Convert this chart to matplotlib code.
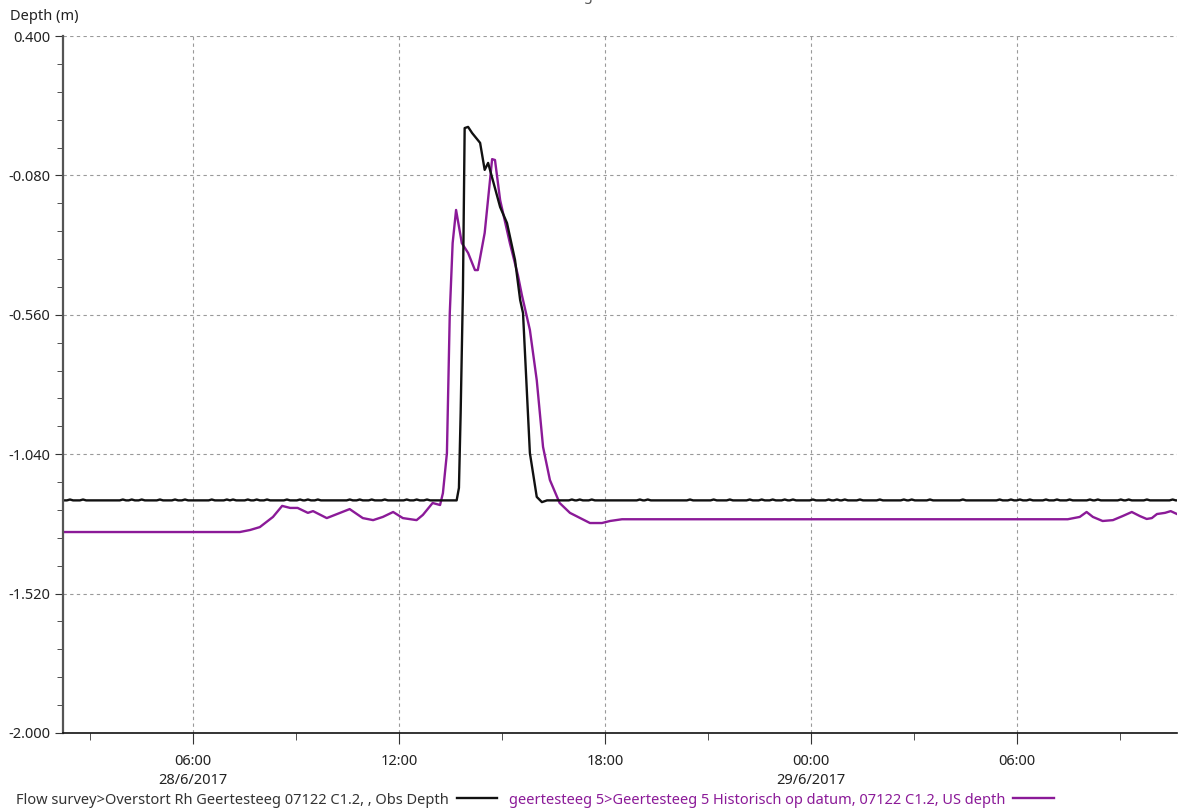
import numpy as np
import pandas as pd
import matplotlib
matplotlib.use("Agg")
from matplotlib import pyplot as plt
import matplotlib.dates as mdates

plt.rcParams['font.family'] = ['Noto Sans', 'DejaVu Sans']

# --- data (time, depth in m) ---
obs_times = ['2017-06-28 02:13', '2017-06-28 13:41', '2017-06-28 13:45', '2017-06-28 13:48',
             '2017-06-28 13:52', '2017-06-28 13:55', '2017-06-28 14:01', '2017-06-28 14:08',
             '2017-06-28 14:22', '2017-06-28 14:30', '2017-06-28 14:36', '2017-06-28 14:57',
             '2017-06-28 15:09', '2017-06-28 15:23', '2017-06-28 15:32', '2017-06-28 15:37',
             '2017-06-28 15:49', '2017-06-28 16:01', '2017-06-28 16:10', '2017-06-28 16:19',
             '2017-06-29 10:40']
obs_depth = [-1.199, -1.199, -1.156, -0.898,
             -0.475, 0.083, 0.087, 0.066,
             0.032, -0.061, -0.037, -0.189,
             -0.244, -0.371, -0.509, -0.554,
             -1.036, -1.187, -1.205, -1.199,
             -1.199]
# small wiggles on the flat part of the observed depth (hours after 28/6 00:00)
obs_bumps = [2.42, 2.80, 3.96, 4.22, 4.51, 5.04, 5.48, 5.77, 6.55, 6.99, 7.17, 7.60,
             7.86, 8.16, 8.74, 9.12, 9.35, 9.64, 10.57, 10.86, 11.21, 11.59, 12.23,
             12.52, 12.82, 17.04, 17.27, 17.62, 19.02, 19.25, 20.48, 21.17, 21.64,
             22.22, 22.57, 22.89, 23.24, 23.48, 24.06, 24.52, 24.76, 24.99, 25.43,
             26.01, 26.71, 26.94, 27.47, 28.43, 29.50, 29.83, 30.09, 30.38, 30.85,
             31.17, 31.54, 32.13, 32.36, 33.03, 33.26, 33.79, 34.54]

us_times = ['2017-06-28 02:13', '2017-06-28 07:22', '2017-06-28 07:40', '2017-06-28 07:57',
            '2017-06-28 08:20', '2017-06-28 08:36', '2017-06-28 08:50', '2017-06-28 09:03',
            '2017-06-28 09:21', '2017-06-28 09:30', '2017-06-28 09:54', '2017-06-28 10:34',
            '2017-06-28 10:57', '2017-06-28 11:15', '2017-06-28 11:32', '2017-06-28 11:50',
            '2017-06-28 12:07', '2017-06-28 12:31', '2017-06-28 12:42', '2017-06-28 12:59',
            '2017-06-28 13:12', '2017-06-28 13:17', '2017-06-28 13:24', '2017-06-28 13:29',
            '2017-06-28 13:34', '2017-06-28 13:40', '2017-06-28 13:50', '2017-06-28 14:01',
            '2017-06-28 14:13', '2017-06-28 14:18', '2017-06-28 14:30', '2017-06-28 14:43',
            '2017-06-28 14:48', '2017-06-28 14:57', '2017-06-28 15:14', '2017-06-28 15:28',
            '2017-06-28 15:35', '2017-06-28 15:49', '2017-06-28 16:01', '2017-06-28 16:12',
            '2017-06-28 16:24', '2017-06-28 16:41', '2017-06-28 16:59', '2017-06-28 17:34',
            '2017-06-28 17:55', '2017-06-28 18:09', '2017-06-28 18:30', '2017-06-29 07:29',
            '2017-06-29 07:50', '2017-06-29 08:02', '2017-06-29 08:13', '2017-06-29 08:30',
            '2017-06-29 08:48', '2017-06-29 09:05', '2017-06-29 09:21', '2017-06-29 09:35',
            '2017-06-29 09:47', '2017-06-29 09:56', '2017-06-29 10:05', '2017-06-29 10:19',
            '2017-06-29 10:29', '2017-06-29 10:40']
us_depth = [-1.308, -1.308, -1.301, -1.291,
            -1.256, -1.218, -1.225, -1.225,
            -1.242, -1.236, -1.260, -1.229,
            -1.260, -1.267, -1.256, -1.239,
            -1.260, -1.267, -1.249, -1.208,
            -1.215, -1.174, -1.036, -0.554,
            -0.313, -0.199, -0.313, -0.347,
            -0.406, -0.406, -0.278, -0.024,
            -0.027, -0.165, -0.313, -0.423,
            -0.492, -0.612, -0.785, -1.015,
            -1.129, -1.208, -1.242, -1.277,
            -1.277, -1.270, -1.264, -1.264,
            -1.256, -1.239, -1.256, -1.270,
            -1.267, -1.253, -1.239, -1.253,
            -1.263, -1.260, -1.246, -1.242,
            -1.236, -1.246]

obs_label = 'Flow survey>Overstort Rh Geertesteeg 07122 C1.2, , Obs Depth'
us_label = 'geertesteeg 5>Geertesteeg 5 Historisch op datum, 07122 C1.2, US depth'

y_ticks = [0.400, -0.080, -0.560, -1.040, -1.520, -2.000]
x_ticks = ['2017-06-28 06:00', '2017-06-28 12:00', '2017-06-28 18:00',
           '2017-06-29 00:00', '2017-06-29 06:00']
x_ticklabels = ['06:00\n28/6/2017', '12:00', '18:00', '00:00\n29/6/2017', '06:00']

# --- build series ---
day0 = pd.Timestamp('2017-06-28 00:00')
obs = pd.Series(obs_depth, index=pd.to_datetime(obs_times))
extra = {}
for h in obs_bumps:
    extra[day0 + pd.Timedelta(hours=h - 0.09)] = -1.199
    extra[day0 + pd.Timedelta(hours=h)] = -1.196
    extra[day0 + pd.Timedelta(hours=h + 0.09)] = -1.199
obs = pd.concat([obs, pd.Series(extra)]).sort_index()
us = pd.Series(us_depth, index=pd.to_datetime(us_times))

purple = '#8b1a98'
txt = '#222222'
fs = 10.5

fig = plt.figure(figsize=(11.87, 8.09), dpi=100)
ax = fig.add_axes([63 / 1187, 76 / 809, (1177 - 63) / 1187, (733 - 36) / 809])

ax.plot(us.index, us.values, color=purple, lw=1.7, label=us_label)
ax.plot(obs.index, obs.values, color='#111111', lw=1.7, label=obs_label)

ax.set_xlim(pd.Timestamp('2017-06-28 02:13'), pd.Timestamp('2017-06-29 10:40'))
ax.set_ylim(-2.0, 0.4)

ax.set_yticks(y_ticks)
ax.set_yticklabels(['%.3f' % v for v in y_ticks])
ax.set_yticks(np.arange(-2.0, 0.4, 0.096), minor=True)
ax.set_xticks(pd.to_datetime(x_ticks))
ax.set_xticklabels(x_ticklabels, linespacing=1.35)
ax.xaxis.set_minor_locator(mdates.HourLocator(byhour=[3, 9, 15, 21]))

ax.tick_params(axis='both', which='both', labelsize=fs, colors='#333333', labelcolor=txt)
ax.tick_params(axis='y', which='major', length=6, pad=3)
ax.tick_params(axis='y', which='minor', length=4)
ax.tick_params(axis='x', which='major', length=8, pad=7)
ax.tick_params(axis='x', which='minor', length=5)

for s in ['top', 'right']:
    ax.spines[s].set_visible(False)
ax.spines['left'].set_color('#555555')
ax.spines['left'].set_linewidth(1.6)
ax.spines['bottom'].set_color('#111111')
ax.spines['bottom'].set_linewidth(1.2)

ax.grid(True, which='major', linestyle=(0, (3, 3)), color='#9a9a9a', lw=0.8)
ax.set_axisbelow(True)

fig.text(10 / 1187, 1 - 16 / 809, 'Depth (m)', fontsize=fs, color=txt, va='center', ha='left')
fig.text(0.497, 1.004, 'Page 1', fontsize=fs, color='#555555', ha='center', va='center')

handles, labels = ax.get_legend_handles_labels()
leg = fig.legend(handles[::-1], labels[::-1], ncol=2, markerfirst=False, frameon=False,
                 loc='center', bbox_to_anchor=(535 / 1187, 1 - 800 / 809), fontsize=fs,
                 handlelength=2.8, columnspacing=0.8, handletextpad=0.5, borderaxespad=0)
leg.get_texts()[0].set_color('#333333')
leg.get_texts()[1].set_color(purple)

fig.savefig('out.png', dpi=100)
